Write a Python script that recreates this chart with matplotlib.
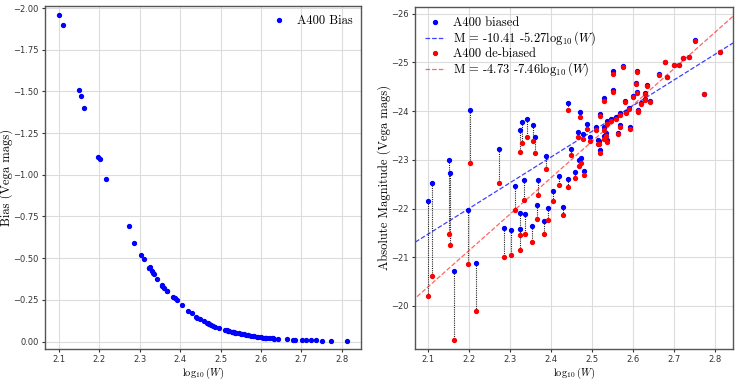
import matplotlib
matplotlib.use("Agg")
import matplotlib.pyplot as plt
import numpy as np

plt.rcParams['mathtext.fontset'] = 'cm'

# --- data ---
logw = [2.099, 2.109, 2.150, 2.154, 2.163, 2.197, 2.202, 2.216, 2.272, 2.285,
        2.302, 2.311, 2.323, 2.323, 2.325, 2.330, 2.333, 2.335, 2.342, 2.354,
        2.356, 2.360, 2.366, 2.367, 2.383, 2.388, 2.393, 2.405, 2.420, 2.428,
        2.440, 2.442, 2.449, 2.459, 2.465, 2.468, 2.471, 2.472, 2.477, 2.481,
        2.487, 2.495, 2.510, 2.515, 2.518, 2.519, 2.520, 2.528, 2.530, 2.530,
        2.533, 2.536, 2.537, 2.546, 2.550, 2.552, 2.558, 2.562, 2.567, 2.567,
        2.576, 2.580, 2.582, 2.590, 2.593, 2.599, 2.606, 2.610, 2.610, 2.612,
        2.613, 2.619, 2.628, 2.629, 2.633, 2.641, 2.664, 2.678, 2.684, 2.701,
        2.712, 2.723, 2.737, 2.752, 2.773, 2.813]

bias = [-1.958, -1.896, -1.507, -1.471, -1.401, -1.106, -1.092, -0.976, -0.695, -0.589,
        -0.519, -0.495, -0.440, -0.440, -0.445, -0.420, -0.410, -0.402, -0.375, -0.340,
        -0.335, -0.320, -0.305, -0.300, -0.268, -0.258, -0.248, -0.216, -0.180, -0.170,
        -0.146, -0.143, -0.134, -0.120, -0.113, -0.110, -0.107, -0.105, -0.100, -0.096,
        -0.090, -0.083, -0.072, -0.068, -0.066, -0.065, -0.064, -0.060, -0.058, -0.058,
        -0.056, -0.054, -0.053, -0.049, -0.047, -0.046, -0.043, -0.041, -0.039, -0.039,
        -0.035, -0.033, -0.032, -0.029, -0.028, -0.026, -0.024, -0.023, -0.023, -0.022,
        -0.022, -0.021, -0.019, -0.019, -0.018, -0.016, -0.014, -0.012, -0.012, -0.011,
        -0.011, -0.009, -0.007, -0.006, -0.005, -0.004]

mag_biased = [-22.16, -22.52, -22.99, -22.73, -20.71, -21.97, -24.02, -20.88, -23.23, -21.60,
              -21.56, -22.46, -21.58, -21.90, -23.61, -23.77, -22.58, -21.88, -23.84, -21.65,
              -23.71, -23.46, -22.08, -22.58, -21.75, -23.08, -22.01, -22.37, -22.66, -22.04,
              -22.60, -24.17, -23.22, -22.74, -23.57, -22.99, -23.99, -23.04, -23.53, -22.78,
              -23.73, -23.47, -23.68, -23.40, -23.39, -23.21, -23.95, -23.67, -24.27, -23.48,
              -23.55, -23.79, -23.41, -23.84, -24.82, -24.44, -23.87, -23.56, -23.97, -23.71,
              -24.93, -24.21, -23.99, -24.07, -23.67, -24.32, -24.57, -24.82, -24.40, -24.03,
              -24.00, -24.16, -24.38, -24.25, -24.54, -24.21, -24.76, -25.01, -24.71, -24.95,
              -24.95, -25.09, -25.12, -25.45, -24.36, -25.21]

mag_debiased = [-20.20, -20.62, -21.48, -21.26, -19.31, -20.86, -22.93, -19.90, -22.53, -21.01,
                -21.04, -21.97, -21.14, -21.46, -23.17, -23.35, -22.17, -21.48, -23.47, -21.31,
                -23.38, -23.14, -21.78, -22.28, -21.48, -22.82, -21.76, -22.15, -22.48, -21.87,
                -22.45, -24.03, -23.09, -22.62, -23.46, -22.88, -23.88, -22.94, -23.43, -22.68,
                -23.64, -23.39, -23.61, -23.33, -23.32, -23.15, -23.89, -23.61, -24.21, -23.42,
                -23.49, -23.74, -23.36, -23.79, -24.77, -24.39, -23.83, -23.52, -23.93, -23.67,
                -24.90, -24.18, -23.96, -24.04, -23.64, -24.29, -24.55, -24.80, -24.38, -24.01,
                -23.98, -24.14, -24.36, -24.23, -24.52, -24.19, -24.75, -25.00, -24.70, -24.94,
                -24.94, -25.08, -25.11, -25.44, -24.36, -25.21]

# fitted relations quoted in the legend
fit_biased = (-10.41, -5.27)
fit_debiased = (-4.73, -7.46)

serif = ['cmr10', 'DejaVu Serif']
fig = plt.figure(figsize=(7.48, 3.80), dpi=100)
ax1 = fig.add_axes([0.060, 0.082, 0.423, 0.902])
ax2 = fig.add_axes([0.555, 0.082, 0.425, 0.900])

for ax in (ax1, ax2):
    ax.grid(True, color='#dcdcdc', lw=0.8)
    ax.set_axisbelow(True)
    for s in ax.spines.values():
        s.set_color('#555555')
        s.set_linewidth(1.0)
    ax.tick_params(labelsize=6, length=2.5, width=0.8, pad=2, colors='#333333')

# Left panel
ax1.plot(logw, bias, 'o', color='blue', ms=2.8, label='A400 Bias', ls='none')
ax1.set_xlim(2.065, 2.848)
ax1.set_ylim(0.044, -2.012)
ax1.set_yticks([0.0, -0.25, -0.5, -0.75, -1.0, -1.25, -1.5, -1.75, -2.0])
ax1.set_xticks([2.1, 2.2, 2.3, 2.4, 2.5, 2.6, 2.7, 2.8])
ax1.set_xlabel(r'$\log_{10}(W)$', fontsize=7.5, labelpad=1)
ax1.set_ylabel('Bias (Vega mags)', fontsize=9, family=serif, labelpad=0)
ax1.legend(loc='upper right', frameon=False, prop={'family': serif, 'size': 9},
           handletextpad=0.4, borderaxespad=0.3)

# Right panel
for x, mb, md in zip(logw, mag_biased, mag_debiased):
    ax2.plot([x, x], [mb, md], ls=(0, (1, 1)), color='#222222', lw=0.8, zorder=2)
xl = np.array([2.0, 2.9])
ax2.plot(logw, mag_biased, 'o', color='blue', ms=2.8, ls='none', label='A400 biased', zorder=3)
ax2.plot(xl, fit_biased[0] + fit_biased[1] * xl, '--', color='blue', lw=0.9, alpha=0.75,
         label=r'M = -10.41 -5.27$\log_{10}(W)$', zorder=2)
ax2.plot(logw, mag_debiased, 'o', color='red', ms=2.8, ls='none', label='A400 de-biased', zorder=4)
ax2.plot(xl, fit_debiased[0] + fit_debiased[1] * xl, '--', color='red', lw=0.9, alpha=0.6,
         label=r'M = -4.73 -7.46$\log_{10}(W)$', zorder=2)
ax2.set_xlim(2.068, 2.844)
ax2.set_ylim(-19.12, -26.14)
ax2.set_xticks([2.1, 2.2, 2.3, 2.4, 2.5, 2.6, 2.7, 2.8])
ax2.set_yticks([-20, -21, -22, -23, -24, -25, -26])
ax2.set_xlabel(r'$\log_{10}(W)$', fontsize=7.5, labelpad=1)
ax2.set_ylabel('Absolute Magnitude (Vega mags)', fontsize=9, family=serif, labelpad=0)
ax2.legend(loc='upper left', frameon=False, prop={'family': serif, 'size': 9},
           handlelength=1.6, handletextpad=0.6, labelspacing=0.05, borderaxespad=0.4)

fig.savefig('out.png', dpi=100)
